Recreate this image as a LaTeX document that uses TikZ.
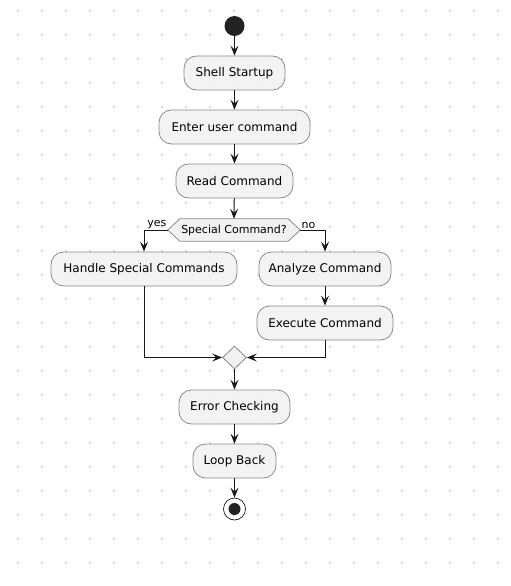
\documentclass[tikz,border=0pt]{standalone}
\usepackage{fontspec}
\setmainfont{DejaVu Sans}
\usetikzlibrary{arrows.meta,shapes.geometric,backgrounds}
\definecolor{ln}{HTML}{181818}
\definecolor{bd}{HTML}{8A8A8A}
\definecolor{bx}{HTML}{F1F1F1}
\definecolor{dotc}{HTML}{D6D6D6}
\definecolor{blk}{HTML}{222222}
\begin{document}
\begin{tikzpicture}[x=1pt,y=-1pt,
  act/.style={draw=bd, line width=0.8pt, fill=bx, fill opacity=0.85, text opacity=1,
    rounded corners=12.5pt, minimum height=34pt, inner sep=0pt,
    font=\fontsize{12}{14}\selectfont, minimum width=#1},
  arr/.style={draw=ln, line width=1pt, -{Stealth[length=10pt,width=8pt,inset=4pt]}},
  lbl/.style={font=\fontsize{11}{13}\selectfont, inner sep=1pt}]
\useasboundingbox (0,0) rectangle (511,586);
\begin{scope}[on background layer]
\fill[white] (0,0) rectangle (511,586);
\foreach \i in {0,...,20} {\foreach \j in {0,...,23} {
  \fill[dotc] (17+24*\i,10+24*\j) rectangle ++(2,2);}}
\end{scope}
% nodes
\node[circle, fill=blk, minimum size=20pt, inner sep=0pt] (start) at (234.5,26) {};
\node[act=101pt] (shell) at (234.5,73) {Shell Startup};
\node[act=151pt] (enter) at (234.5,127) {Enter user command};
\node[act=117pt] (read) at (234.5,181) {Read Command};
\node[minimum width=132pt, minimum height=22pt, inner sep=0pt,
  font=\fontsize{11}{13}\selectfont] (dec) at (234,230) {Special Command?};
\begin{scope}[on background layer]
\draw[bd, line width=0.8pt, fill=bx] (dec.west) -- ([xshift=12pt]dec.north west)
  -- ([xshift=-12pt]dec.north east) -- (dec.east) -- ([xshift=-12pt]dec.south east)
  -- ([xshift=12pt]dec.south west) -- cycle;
\end{scope}
\node[act=186pt] (handle) at (144,269) {Handle Special Commands};
\node[act=132pt] (analyze) at (325,269) {Analyze Command};
\node[act=136pt] (execute) at (325,323) {Execute Command};
\node[diamond, draw=bd, line width=0.8pt, fill=bx, minimum width=24pt,
  minimum height=23pt, inner sep=0pt] (merge) at (234.5,357.5) {};
\node[act=111pt] (error) at (234.5,407) {Error Checking};
\node[act=83pt] (loop) at (234.5,461) {Loop Back};
\node[circle, draw=ln, line width=0.7pt, minimum size=22pt, inner sep=0pt,
  path picture={\fill[blk] (path picture bounding box.center) circle (6pt);}]
  (end) at (234.5,509) {};
% connectors
\draw[arr] (start) -- (shell);
\draw[arr] (shell) -- (enter);
\draw[arr] (enter) -- (read);
\draw[arr] (read) -- (dec.north);
\draw[arr] (dec.west) -| node[pos=0, anchor=south east, lbl] {yes} (handle.north);
\draw[arr] (dec.east) -| node[pos=0, anchor=south west, lbl] {no} (analyze.north);
\draw[arr] (analyze) -- (execute);
\draw[arr] (handle.south) |- (merge.west);
\draw[arr] (execute.south) |- (merge.east);
\draw[arr] (merge) -- (error);
\draw[arr] (error) -- (loop);
\draw[arr] (loop) -- (end);
\end{tikzpicture}
\end{document}
